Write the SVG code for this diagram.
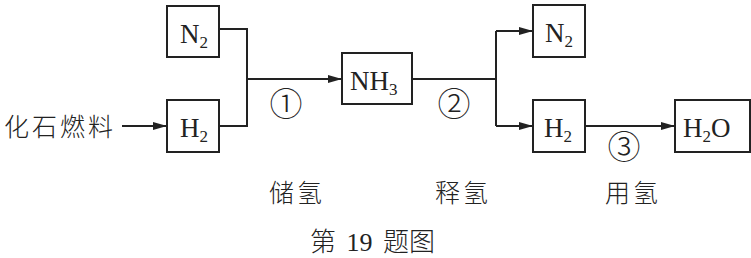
<svg xmlns="http://www.w3.org/2000/svg" width="751" height="258" viewBox="0 0 751 258">
<style>
.box{fill:#fff;stroke:#222;stroke-width:2}
.ln{fill:none;stroke:#222;stroke-width:2}
.f{font-family:"Liberation Serif","Times New Roman",serif;font-size:27px;fill:#222}
.sub{font-size:17px}
.cjk{font-family:"Liberation Serif","Noto Sans CJK SC",serif;font-size:25px;fill:#222;font-weight:300}
.num{font-family:"DejaVu Sans","Noto Sans CJK SC",sans-serif;font-size:33px;fill:#222;font-weight:300}
</style>
<defs>
<marker id="ar" markerWidth="14" markerHeight="10" refX="13" refY="5" orient="auto" markerUnits="userSpaceOnUse">
<path d="M0,1 L14,5 L0,9 Z" fill="#222"/>
</marker>
</defs>
<g id="connectors">
<path class="ln" d="M219,29 H247 V126 H219"/>
<path class="ln" d="M247,79 H341" marker-end="url(#ar)"/>
<path class="ln" d="M122,126 H166" marker-end="url(#ar)"/>
<path class="ln" d="M412,79 H496"/>
<path class="ln" d="M496,31 V126"/>
<path class="ln" d="M496,31 H532" marker-end="url(#ar)"/>
<path class="ln" d="M496,126 H532" marker-end="url(#ar)"/>
<path class="ln" d="M585,126 H674" marker-end="url(#ar)"/>
</g>
<g id="fuel"><text class="cjk" x="4" y="136" style="letter-spacing:3px">化石燃料</text></g>
<g id="n2a"><rect class="box" x="167" y="6" width="52" height="51"/><text class="f" x="180" y="43">N<tspan class="sub" dy="5">2</tspan></text></g>
<g id="h2a"><rect class="box" x="167" y="100" width="52" height="52"/><text class="f" x="180" y="137">H<tspan class="sub" dy="5">2</tspan></text></g>
<g id="nh3"><rect class="box" x="342" y="53" width="70" height="51"/><text class="f" x="350" y="90">NH<tspan class="sub" dy="5">3</tspan></text></g>
<g id="n2b"><rect class="box" x="533" y="5" width="52" height="52"/><text class="f" x="545" y="42">N<tspan class="sub" dy="5">2</tspan></text></g>
<g id="h2b"><rect class="box" x="533" y="100" width="52" height="52"/><text class="f" x="544" y="137">H<tspan class="sub" dy="5">2</tspan></text></g>
<g id="h2o"><rect class="box" x="675" y="100" width="75" height="52"/><text class="f" x="683" y="137">H<tspan class="sub" dy="5">2</tspan><tspan dy="-5">O</tspan></text></g>
<g id="labels">
<text class="num" x="286" y="116" text-anchor="middle">①</text>
<text class="num" x="454" y="116" text-anchor="middle">②</text>
<text class="num" x="624" y="159" text-anchor="middle">③</text>
<text class="cjk" x="269" y="202" style="letter-spacing:3px">储氢</text>
<text class="cjk" x="435" y="202" style="letter-spacing:3px">释氢</text>
<text class="cjk" x="605" y="202" style="letter-spacing:3px">用氢</text>
<text class="cjk" x="310" y="251" style="font-size:26px;word-spacing:4px">第 <tspan font-family="Liberation Serif">19</tspan> 题图</text>
</g>
</svg>
